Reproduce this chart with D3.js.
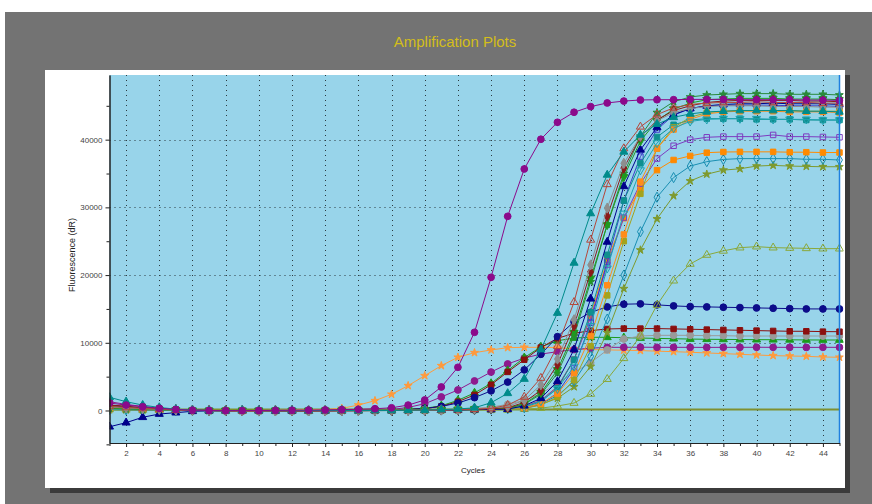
<!DOCTYPE html>
<html>
<head>
<meta charset="utf-8">
<script src="https://cdn.jsdelivr.net/npm/d3@7"></script>
<style>
body { margin: 0; background: #fff; }
text { font-family: Arial, "Liberation Sans", sans-serif; }
</style>
</head>
<body>
<script>
// cycle numbers on the x axis
var cycles = d3.range(1, 46);
var xTickLabels = d3.range(2, 45, 2);
var yTickLabels = [0, 10000, 20000, 30000, 40000];
var yMinorTicks = [-5000, 5000, 15000, 25000, 35000, 45000];
var thresholdValue = 150;

// fluorescence (dR) per cycle, cycles 1..45
var tealTri = [1950,1300,800,450,200,60,0,-30,20,-20,0,30,-10,0,20,-20,10,0,40,60,120,220,400,1150,2540,4650,9000,14400,21800,29100,34800,38200,40700,42300,43300,43800,44100,44200,44300,44300,44300,44300,44200,44200,44100];
var brownOpenTri = [600,450,300,180,80,20,0,-40,-60,-30,0,-20,-50,-30,-40,-20,-10,0,20,40,70,120,200,300,800,2000,4800,9500,16000,25200,33400,38700,41900,43700,44700,45200,45400,45500,45500,45600,45500,45500,45500,45400,45400];
var grayDiamond = [500,380,260,160,80,30,0,-20,-40,-60,-40,-20,-30,-40,-20,0,10,20,30,50,80,150,250,380,600,1500,3800,7600,13400,21500,29900,36500,40500,42800,44000,44600,44900,45000,45000,45000,44900,44900,44900,44800,44800];
var darkredDiamond = [800,600,400,250,120,40,0,-30,-60,-70,-50,-40,-60,-50,-30,-20,0,10,30,50,80,130,200,300,400,1200,3000,6800,12500,20500,28700,35800,40400,42900,44300,45000,45500,45700,45800,45800,45800,45800,45700,45700,45600];
var greenDownTri = [400,300,200,120,60,20,0,10,30,20,0,-20,-10,0,10,20,30,40,60,80,110,160,230,300,350,1000,2600,6000,11500,19500,27400,34500,39800,42800,44500,45400,45900,46000,46100,46100,46100,46000,46000,46000,45900];
var navyTri = [-2400,-1800,-1000,-520,-320,-120,-50,-20,0,-30,-50,-60,-40,-50,-30,-20,-10,0,10,30,50,80,120,160,200,700,1800,4300,9000,16500,24900,33100,38500,41800,43700,44600,45000,45200,45300,45300,45400,45300,45300,45300,45200];
var greenStar = [300,220,150,90,40,10,0,20,40,30,10,0,-10,10,20,30,40,50,60,90,120,160,220,260,300,900,2400,5500,11000,19000,27500,35000,40500,44000,45600,46300,46600,46700,46800,46800,46800,46700,46700,46700,46600];
var tealOpenDown = [200,150,100,60,30,10,0,-20,-10,0,20,10,0,-10,0,10,20,30,40,50,70,100,140,200,280,500,1400,3200,6500,12500,21000,29100,35500,39500,41700,42700,43000,43100,43100,43100,43000,43000,43000,42900,42900];
var orangeSqHigh = [350,260,180,110,50,20,0,30,50,40,20,0,20,30,40,50,60,70,80,100,120,150,190,240,300,400,1000,2500,5500,11000,18500,26000,33800,38700,41500,43000,43800,44100,44200,44200,44200,44100,44100,44100,44000];
var oliveSq = [250,180,120,70,30,0,-20,-40,-30,-50,-60,-40,-30,-50,-40,-30,-20,0,20,40,60,90,130,180,240,300,800,2000,4500,9500,17000,25000,32000,38700,41800,43300,44000,44200,44300,44300,44300,44300,44200,44200,44200];
var darkcyanSq = [600,450,300,180,90,30,0,-10,-20,0,10,-10,0,10,20,10,20,30,50,70,100,140,200,280,360,500,1300,3300,7500,14500,23000,31000,36500,40400,42200,42900,43100,43100,43100,43000,43000,43000,42900,42900,42900];
var blueOpenSq = [450,340,230,140,70,20,0,-20,-10,-30,-20,0,-10,-20,0,10,20,30,50,70,90,120,160,210,260,300,900,2600,6200,13000,22000,31000,37500,41500,43600,44600,45000,45100,45100,45100,45100,45000,45000,45000,44900];
var purpleOpenSq = [300,220,150,90,40,10,0,-20,-30,-10,0,-20,-30,-10,0,10,20,30,40,60,80,110,150,200,260,600,1500,3500,7500,13700,21500,28500,33500,37200,39100,40000,40350,40450,40450,40450,40700,40450,40450,40400,40350];
var orangeSqLow = [200,150,100,60,30,10,0,-20,-40,-30,-20,-40,-30,-20,0,10,20,30,40,60,80,110,150,200,300,600,1500,3500,7500,14000,22200,28400,32800,35500,37000,37600,38080,38180,38200,38200,38200,38150,38150,38100,38100];
var tealOpenDiamond = [150,110,70,40,20,0,-20,-30,-20,-10,0,-20,-10,0,10,20,30,40,50,60,80,100,140,190,250,400,1000,2200,4300,8000,13500,20000,26400,31500,34400,36100,36750,37080,37200,37200,37200,37200,37100,37100,37000];
var oliveStar = [100,80,50,30,10,0,-10,-20,-30,-20,-10,-20,-30,-10,0,10,20,30,40,50,70,90,120,160,220,400,900,1800,3500,6500,11500,18000,23700,28300,31700,33900,34900,35500,35700,36100,36200,36100,36050,36000,36000];
var oliveOpenTri = [150,110,70,40,20,0,-20,-40,-50,-40,-30,-50,-60,-40,-30,-20,-10,0,10,20,30,40,50,70,100,200,350,660,1100,2440,4630,7710,11000,15580,19170,21640,22970,23580,24050,24200,24050,24000,23950,23900,23900];
var navyCircle = [700,520,350,200,100,30,0,-20,-40,-30,-10,-30,-20,0,10,20,40,80,150,300,600,1100,1900,2900,4200,6000,8300,10900,13100,14500,15300,15700,15750,15600,15450,15350,15300,15250,15200,15150,15100,15050,15000,15000,14990];
var darkredSq = [810,600,400,240,120,40,0,-20,-40,-60,-50,-30,-40,-20,0,20,40,80,150,300,600,1300,2300,3800,5700,7500,9300,10660,11400,11790,12040,12100,12100,12100,12050,12000,11950,11900,11850,11800,11750,11700,11700,11650,11640];
var grayCircle = [300,220,150,90,40,10,0,-10,-20,-30,-20,-10,0,10,20,30,40,60,80,110,150,220,320,500,900,1500,2500,4000,5600,7060,8940,10560,11000,11100,11100,11100,11050,11050,11000,11000,11000,11000,11000,11000,11000];
var greenTri = [500,380,260,150,70,20,0,20,40,30,10,0,-10,0,10,30,50,90,160,320,700,1500,2600,4000,5900,7800,9400,10300,10700,10810,10810,10750,10700,10650,10600,10550,10520,10500,10480,10460,10450,10440,10420,10410,10410];
var purpleCircle = [1300,900,600,350,150,50,0,-20,-30,-20,0,-10,0,20,40,80,120,150,450,1000,2000,3030,4360,5680,6870,7740,8330,8690,9000,9200,9330,9330,9350,9330,9330,9330,9320,9330,9330,9340,9330,9330,9320,9330,9330];
var orangeStar = [400,300,200,120,60,20,0,30,50,40,60,80,100,150,320,800,1450,2390,3670,5140,6620,7860,8540,8940,9280,9330,9330,9300,9080,9000,8950,8900,8850,8760,8690,8600,8500,8400,8300,8200,8100,8050,8000,7900,7860];
var bigPurple = [1100,800,550,320,150,50,0,-20,-10,0,20,40,60,90,130,180,260,400,800,1550,3470,6380,11550,19670,28680,35670,40060,42570,44050,44880,45420,45700,45860,45900,45900,45950,45950,45950,45900,45900,45900,45900,45850,45850,45800];

var series = [
  { values: orangeStar, color: "#ff9a3c", shape: "star", open: false },
  { values: purpleCircle, color: "#8e1a8e", shape: "circle", open: false },
  { values: greenTri, color: "#1c9a1c", shape: "triangle", open: false },
  { values: grayCircle, color: "#9a9a9a", shape: "circle", open: false },
  { values: darkredSq, color: "#8b0f0f", shape: "square", open: false },
  { values: navyCircle, color: "#0c0c8a", shape: "circle", open: false },
  { values: oliveOpenTri, color: "#8aa83a", shape: "triangle", open: true },
  { values: oliveStar, color: "#7e9a2e", shape: "star", open: false },
  { values: tealOpenDiamond, color: "#1a8fb2", shape: "diamond", open: true },
  { values: orangeSqLow, color: "#ff8a00", shape: "square", open: false },
  { values: purpleOpenSq, color: "#7d3cc0", shape: "square", open: true },
  { values: blueOpenSq, color: "#3c3cc8", shape: "square", open: true },
  { values: darkcyanSq, color: "#0f8f8f", shape: "square", open: false },
  { values: oliveSq, color: "#a3a31c", shape: "square", open: false },
  { values: orangeSqHigh, color: "#ff8c1a", shape: "square", open: false },
  { values: tealOpenDown, color: "#1fa3b2", shape: "down", open: true },
  { values: greenStar, color: "#2a8a3a", shape: "star", open: false },
  { values: navyTri, color: "#00008b", shape: "triangle", open: false },
  { values: greenDownTri, color: "#1f9a1f", shape: "down", open: false },
  { values: darkredDiamond, color: "#8b1a1a", shape: "diamond", open: false },
  { values: grayDiamond, color: "#8e8e8e", shape: "diamond", open: false },
  { values: brownOpenTri, color: "#b5473a", shape: "triangle", open: true },
  { values: tealTri, color: "#008b8b", shape: "triangle", open: false },
  { values: bigPurple, color: "#8b0a8b", shape: "circle", open: false }
];

var W = 872, H = 504;
var plotL = 109.5, plotR = 839.5, plotT = 75, plotB = 443;

var svg = d3.select("body").append("svg").attr("width", W).attr("height", H);

// gray backdrop and white panel with shadow
svg.append("rect").attr("x", 5).attr("y", 12).attr("width", W - 5).attr("height", H - 12).attr("fill", "#737373");
svg.append("rect").attr("x", 50).attr("y", 75).attr("width", 800).attr("height", 418).attr("fill", "#3b3b3b");
svg.append("rect").attr("x", 45).attr("y", 70).attr("width", 800).attr("height", 418).attr("fill", "#ffffff");

svg.append("text").attr("x", 455).attr("y", 47).attr("text-anchor", "middle")
    .style("font-size", "15px").attr("fill", "#d4be1a").text("Amplification Plots");

var x = d3.scaleLinear().domain([1, 45]).range([plotL, plotR]);
var y = d3.scaleLinear().domain([-4800, 49550]).range([plotB, plotT]);

svg.append("rect").attr("x", plotL).attr("y", plotT).attr("width", plotR - plotL).attr("height", plotB - plotT)
    .attr("fill", "#98d4ea");

svg.append("clipPath").attr("id", "clip").append("rect")
    .attr("x", plotL).attr("y", plotT - 4).attr("width", plotR - plotL + 4).attr("height", plotB - plotT + 4);

// dotted grid
svg.append("g").selectAll("line").data(xTickLabels).enter().append("line")
    .attr("x1", function(d){ return Math.round(x(d)) + 0.5; }).attr("x2", function(d){ return Math.round(x(d)) + 0.5; })
    .attr("y1", plotT).attr("y2", plotB)
    .attr("stroke", "#2a3a40").attr("stroke-width", 1).attr("stroke-dasharray", "1,4");
svg.append("g").selectAll("line").data(yTickLabels.slice(1)).enter().append("line")
    .attr("x1", plotL).attr("x2", plotR)
    .attr("y1", function(d){ return Math.round(y(d)) + 0.5; }).attr("y2", function(d){ return Math.round(y(d)) + 0.5; })
    .attr("stroke", "#2a3a40").attr("stroke-width", 1).attr("stroke-dasharray", "1,4");

var plot = svg.append("g").attr("clip-path", "url(#clip)");

plot.append("line").attr("x1", plotL).attr("x2", plotR)
    .attr("y1", y(thresholdValue)).attr("y2", y(thresholdValue))
    .attr("stroke", "#7f9030").attr("stroke-width", 2);

var shapes = {
  circle: d3.symbolCircle, square: d3.symbolSquare, triangle: d3.symbolTriangle,
  diamond: d3.symbolDiamond, star: d3.symbolStar, down: d3.symbolTriangle
};
var sizes = { circle: 36, square: 30, triangle: 28, diamond: 30, star: 20, down: 28 };

var line = d3.line()
    .x(function(d, i){ return x(cycles[i]); })
    .y(function(d){ return y(d); });

series.forEach(function(s){
  var g = plot.append("g");
  g.append("path").attr("d", line(s.values))
      .attr("fill", "none").attr("stroke", s.color).attr("stroke-width", 1);
  g.selectAll("path.m").data(s.values).enter().append("path")
      .attr("class", "m")
      .attr("transform", function(d, i){
        return "translate(" + x(cycles[i]) + "," + y(d) + ")" + (s.shape == "down" ? " rotate(180)" : "");
      })
      .attr("d", d3.symbol().type(shapes[s.shape]).size(sizes[s.shape]))
      .attr("fill", s.open ? "none" : s.color)
      .attr("stroke", s.color).attr("stroke-width", 1);
});

// axes
svg.append("g").attr("transform", "translate(0," + plotB + ")")
    .call(d3.axisBottom(x).tickValues(xTickLabels).tickSize(4).tickSizeOuter(0));
svg.append("g").attr("transform", "translate(0," + plotB + ")")
    .call(d3.axisBottom(x).tickValues(cycles.filter(function(c){ return c % 2 == 1; })).tickSize(3).tickFormat("").tickSizeOuter(0));
svg.append("g").attr("transform", "translate(" + plotL + ",0)")
    .call(d3.axisLeft(y).tickValues(yTickLabels).tickSize(4).tickSizeOuter(0).tickFormat(d3.format("d")));
svg.append("g").attr("transform", "translate(" + plotL + ",0)")
    .call(d3.axisLeft(y).tickValues(yMinorTicks).tickSize(3).tickFormat("").tickSizeOuter(0));

svg.selectAll(".tick text").style("font-size", "8px").attr("fill", "#444");
svg.selectAll(".domain").attr("stroke", "#222");
svg.selectAll(".tick line").attr("stroke", "#222");

svg.append("line").attr("x1", plotR).attr("x2", plotR).attr("y1", plotT).attr("y2", plotB)
    .attr("stroke", "#1f80e0").attr("stroke-width", 1.5);

svg.append("text").attr("x", 473).attr("y", 473).attr("text-anchor", "middle")
    .style("font-size", "8px").attr("fill", "#222").text("Cycles");
svg.append("text").attr("transform", "translate(75,255) rotate(-90)").attr("text-anchor", "middle")
    .style("font-size", "9px").attr("fill", "#222").text("Fluorescence (dR)");
</script>
</body>
</html>
